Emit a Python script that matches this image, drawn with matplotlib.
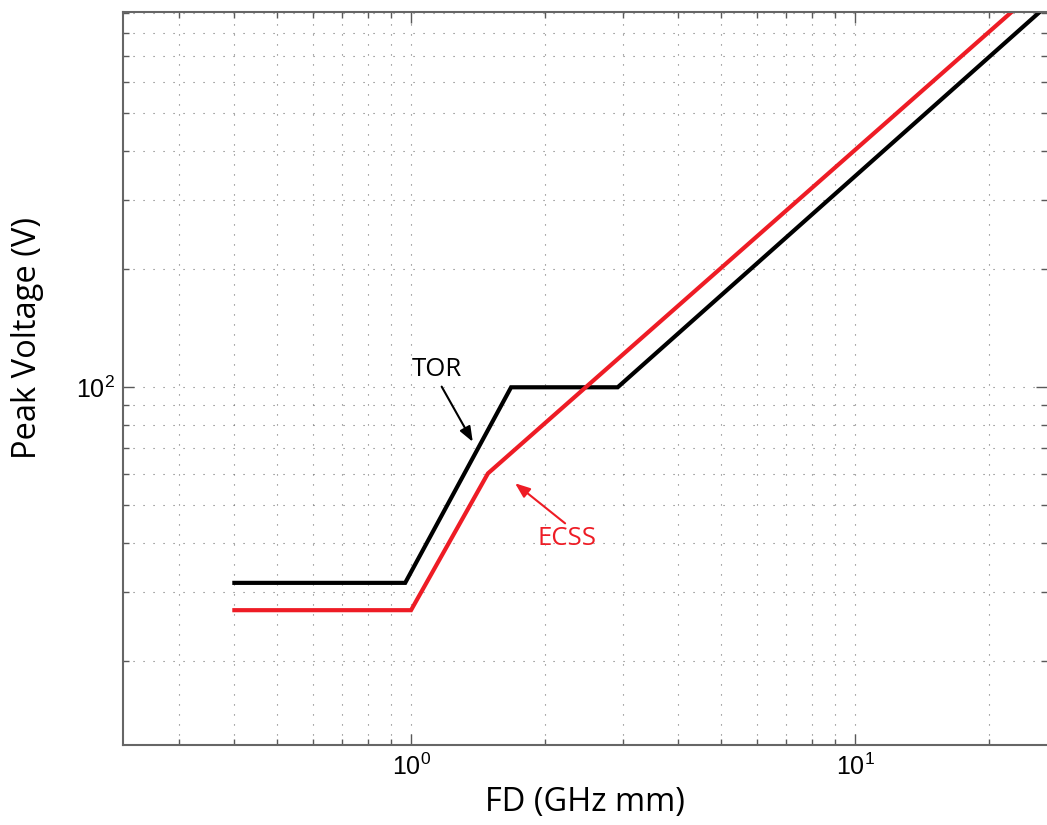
# Peak voltage vs FD, TOR and ECSS limits (log-log)
import numpy as np
import matplotlib
matplotlib.use('Agg')
import matplotlib.pyplot as plt
from matplotlib.ticker import LogLocator, NullFormatter

# data
fd_tor = [0.4, 0.97, 1.68, 2.92, 30]
v_tor = [31.7, 31.7, 100, 100, 1045]
fd_ecss = [0.4, 1.0, 1.49, 30]
v_ecss = [27.0, 27.0, 60.3, 1207]

xlim = (0.2245, 27.06)
ylim = (12.23, 905)

plt.rcParams['mathtext.fontset'] = 'custom'
plt.rcParams['mathtext.rm'] = 'Liberation Sans'
plt.rcParams['mathtext.default'] = 'regular'

fig = plt.figure(figsize=(10.47, 8.25), dpi=100)
ax = fig.add_axes([123 / 1047, 1 - 745 / 825, 1 - 123 / 1047, (745 - 12.3) / 825])

ax.plot(fd_tor, v_tor, color='black', lw=3, solid_joinstyle='miter')
ax.plot(fd_ecss, v_ecss, color='#ee1c25', lw=3, solid_joinstyle='miter')

ax.set_xscale('log')
ax.set_yscale('log')
ax.set_xlim(xlim)
ax.set_ylim(ylim)

# ticks and grid, matlab style
ax.xaxis.set_major_locator(LogLocator(base=10, numticks=10))
ax.yaxis.set_major_locator(LogLocator(base=10, numticks=10))
ax.xaxis.set_minor_locator(LogLocator(base=10, subs=np.arange(2, 10), numticks=20))
ax.yaxis.set_minor_locator(LogLocator(base=10, subs=np.arange(2, 10), numticks=20))
ax.xaxis.set_minor_formatter(NullFormatter())
ax.yaxis.set_minor_formatter(NullFormatter())
ax.tick_params(which='both', direction='in', top=True, right=True, color='0.35')
ax.tick_params(which='major', length=8, width=1, labelsize=18, pad=6)
ax.tick_params(which='minor', length=4, width=1)
for lab in ax.get_xticklabels() + ax.get_yticklabels():
    lab.set_family('Liberation Sans')
ax.grid(True, which='both', color='0.45', lw=0.8, linestyle=(0, (1, 8)))

for s in ['left', 'bottom', 'top']:
    ax.spines[s].set_color('0.4')
    ax.spines[s].set_linewidth(1.5)
ax.spines['right'].set_visible(False)

# annotations
arrow = '-|>,head_length=0.9,head_width=0.35'
ax.text(1.143, 110.7, 'TOR', fontsize=18.5, family='Open Sans', color='black',
        ha='center', va='center')
ax.annotate('', xy=(1.377, 72.6), xytext=(1.172, 100.4),
            arrowprops=dict(arrowstyle=arrow, color='black', lw=1.5,
                            shrinkA=0, shrinkB=0))
ax.text(2.242, 41.2, 'ECSS', fontsize=18.5, family='Open Sans', color='#ee1c25',
        ha='center', va='center')
ax.annotate('', xy=(1.715, 56.9), xytext=(2.223, 44.97),
            arrowprops=dict(arrowstyle=arrow, color='#ee1c25', lw=1.5,
                            shrinkA=0, shrinkB=0))

fig.text(585 / 1047, 1 - 803 / 825, 'FD (GHz mm)', fontsize=23.5, family='Open Sans',
         ha='center', va='center')
fig.text(28 / 1047, 1 - 338 / 825, 'Peak Voltage (V)', fontsize=23.5, family='Open Sans',
         ha='center', va='center', rotation=90)

fig.savefig('out.png', dpi=100)
